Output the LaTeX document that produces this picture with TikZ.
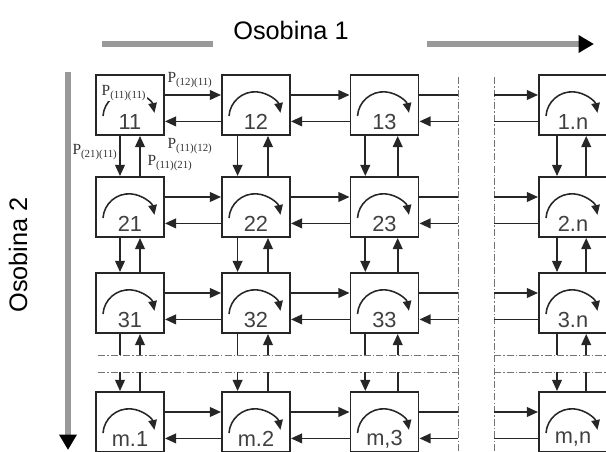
\documentclass[tikz,border=0pt]{standalone}
\usepackage{fontspec}
\setmainfont{Liberation Serif}
\setsansfont{Liberation Sans}
\usetikzlibrary{arrows.meta, positioning}

\begin{document}
\begin{tikzpicture}[
  x=0.025cm, y=-0.025cm,
  cell/.style={rectangle, draw=black!85, line width=1.4pt, minimum width=1.7cm, minimum height=1.5cm, inner sep=0pt},
  num/.style={font=\sffamily\fontsize{15.5}{16}\selectfont, text=black!75, inner sep=0pt, yshift=-0.42cm},
  plab/.style={font=\fontsize{11}{12}\selectfont, inner sep=0.5pt, text=black!80},
  axl/.style={font=\sffamily\fontsize{18}{20}\selectfont},
  arr/.style={-{Triangle[length=8pt,width=7pt]}, draw=black!85, line width=1.2pt},
  lnk/.style={draw=black!85, line width=1.2pt},
  turn/.style={-{Triangle[length=7pt,width=6pt]}, draw=black!85, line width=1.1pt},
  axis/.style={draw=black!40, line width=4pt},
  axarr/.style={axis, -{Triangle[length=11pt,width=12pt,color=black]}},
  sep/.style={draw=black!55, line width=0.7pt, dash pattern=on 5pt off 1.5pt on 1pt off 1.5pt},
]
\useasboundingbox (0,0) rectangle (606,452);
\clip (0,0) rectangle (606,452);

%% Axes
\node[axl] (os1) at (291,30) {Osobina 1};
\node[axl, rotate=90] (os2) at (18,255) {Osobina 2};
\coordinate (ax1) at (102,44);
\coordinate (ax2) at (213,44);
\coordinate (ax3) at (427,44);
\coordinate (ax4) at (594,44);
\coordinate (ay1) at (68,72);
\coordinate (ay2) at (68,450);
\draw[axis] (ax1) -- (ax2);
\draw[axarr] (ax3) -- (ax4);
\draw[axarr] (ay1) -- (ay2);

%% Separators
\coordinate (vl) at (458,0);
\coordinate (vr) at (494,0);
\coordinate (hu) at (0,355);
\coordinate (hd) at (0,372);
\draw[sep] (98,355) -- (458,355);
\draw[sep] (98,372) -- (458,372);
\draw[sep] (494,355) -- (606,355);
\draw[sep] (494,372) -- (606,372);
\draw[sep] (458,77) -- (458,452);
\draw[sep] (494,77) -- (494,452);

%% Cells
\node[cell, label={[num]center:11}]  (n-1-1) at (130,105)   {};
\node[cell, label={[num]center:12}]  (n-1-2) at (256,105)   {};
\node[cell, label={[num]center:13}]  (n-1-3) at (384.5,105) {};
\node[cell, label={[num]center:1.n}] (n-1-n) at (573,105)   {};
\node[cell, label={[num]center:21}]  (n-2-1) at (130,207)   {};
\node[cell, label={[num]center:22}]  (n-2-2) at (256,207)   {};
\node[cell, label={[num]center:23}]  (n-2-3) at (384.5,207) {};
\node[cell, label={[num]center:2.n}] (n-2-n) at (573,207)   {};
\node[cell, label={[num]center:31}]  (n-3-1) at (130,303)   {};
\node[cell, label={[num]center:32}]  (n-3-2) at (256,303)   {};
\node[cell, label={[num]center:33}]  (n-3-3) at (384.5,303) {};
\node[cell, label={[num]center:3.n}] (n-3-n) at (573,303)   {};
\node[cell, label={[num]center:m.1}] (n-m-1) at (130,422)   {};
\node[cell, label={[num]center:m.2}] (n-m-2) at (256,422)   {};
\node[cell, label={[num]center:m,3}] (n-m-3) at (384.5,422) {};
\node[cell, label={[num]center:m,n}] (n-m-n) at (573,422)   {};

%% Turning arrows inside the cells
\foreach \r in {1,2,3,m} {
  \foreach \c in {1,2,3,n} {
    \draw[turn] ([shift={(-27,11)}]n-\r-\c.center) arc[start angle=184, end angle=349, radius=26];
  }
}

%% Row links
\foreach \r in {1,2,3,m} {
  \foreach \c/\d in {1/2,2/3} {
    \draw[arr] ([yshift=0.25cm]n-\r-\c.east) -- ([yshift=0.25cm]n-\r-\d.west);
    \draw[arr] ([yshift=-0.41cm]n-\r-\d.west) -- ([yshift=-0.41cm]n-\r-\c.east);
  }
  \draw[lnk] ([yshift=0.25cm]n-\r-3.east) -- ([yshift=0.25cm]n-\r-3.east -| vl);
  \draw[arr] ([yshift=-0.41cm]n-\r-3.east -| vl) -- ([yshift=-0.41cm]n-\r-3.east);
  \draw[arr] ([yshift=0.25cm]n-\r-n.west -| vr) -- ([yshift=0.25cm]n-\r-n.west);
  \draw[lnk] ([yshift=-0.41cm]n-\r-n.west) -- ([yshift=-0.41cm]n-\r-n.west -| vr);
}

%% Column links
\foreach \c/\dl/\dr in {1/-0.25cm/0.25cm, 2/-0.46cm/0.3cm, 3/-0.48cm/0.33cm, n/-0.4cm/0.33cm} {
  \foreach \r/\s in {1/2,2/3} {
    \draw[arr] ([xshift=\dl]n-\r-\c.south) -- ([xshift=\dl]n-\s-\c.north);
    \draw[arr] ([xshift=\dr]n-\s-\c.north) -- ([xshift=\dr]n-\r-\c.south);
  }
  \draw[lnk] ([xshift=\dl]n-3-\c.south) -- ([xshift=\dl]n-3-\c.south |- hu);
  \draw[arr] ([xshift=\dr]n-3-\c.south |- hu) -- ([xshift=\dr]n-3-\c.south);
  \draw[arr] ([xshift=\dl]n-m-\c.north |- hd) -- ([xshift=\dl]n-m-\c.north);
  \draw[lnk] ([xshift=\dr]n-m-\c.north) -- ([xshift=\dr]n-m-\c.north |- hd);
}

%% Probabilities
\node[plab, fill=white] (p1111) at (124,93)  {P\textsubscript{(11)(11)}};
\node[plab]             (p1211) at (190,80)  {P\textsubscript{(12)(11)}};
\node[plab]             (p1112) at (190,146) {P\textsubscript{(11)(12)}};
\node[plab]             (p2111) at (95,152)  {P\textsubscript{(21)(11)}};
\node[plab]             (p1121) at (170,163) {P\textsubscript{(11)(21)}};
\end{tikzpicture}
\end{document}
